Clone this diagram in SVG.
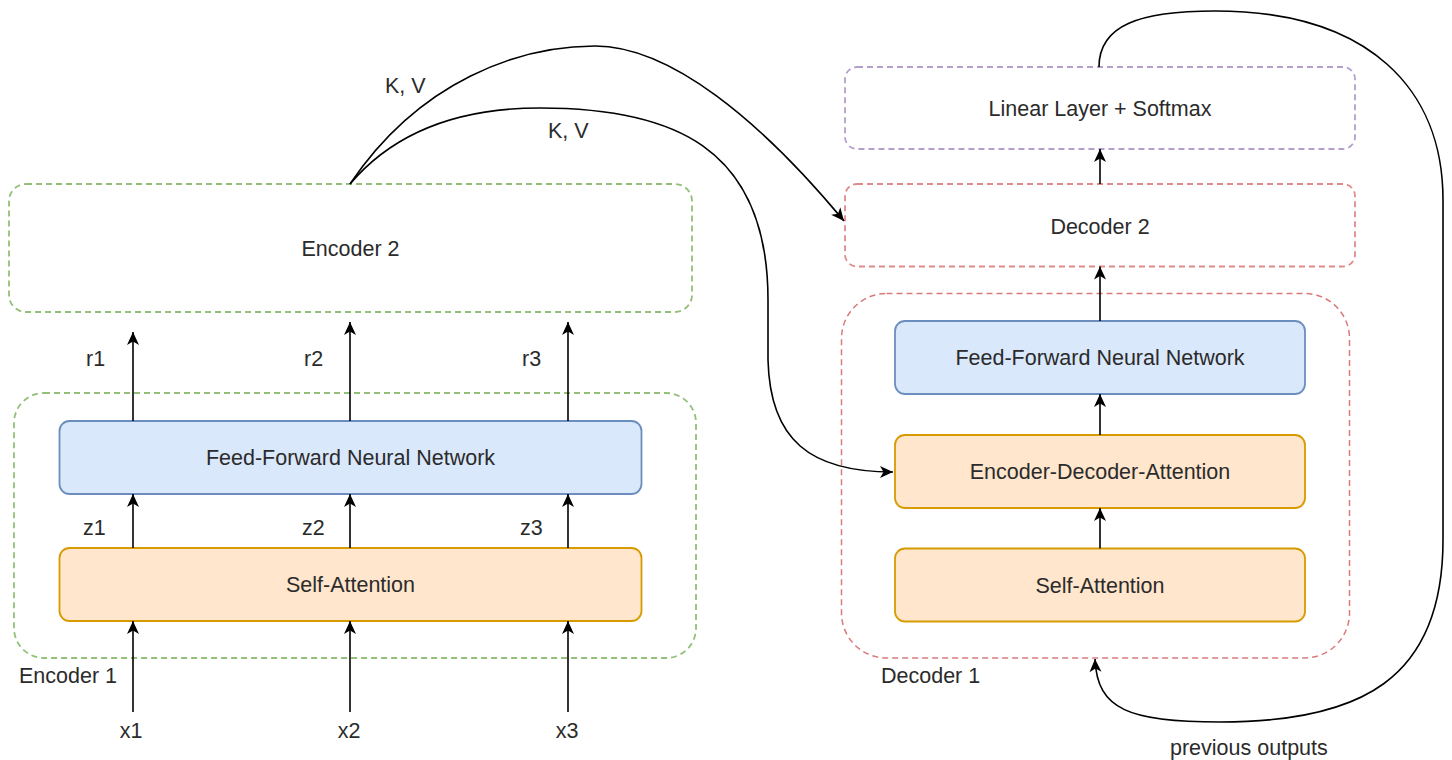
<svg xmlns="http://www.w3.org/2000/svg" width="1452" height="760" viewBox="0 0 1452 760">
  <style>
    text { font-family: "Liberation Sans", Arial, sans-serif; font-size: 21.5px; fill: #2b2b2b; }
    .c { text-anchor: middle; }
    .grp-green { fill: none; stroke: #93bf78; stroke-width: 1.8; stroke-dasharray: 6 4; }
    .grp-red { fill: none; stroke: #e08a8a; stroke-width: 1.8; stroke-dasharray: 6 4; }
    .grp-purple { fill: none; stroke: #b49fcb; stroke-width: 1.8; stroke-dasharray: 6 4; }
    .ffn { fill: #dae8fc; stroke: #6c8ebf; stroke-width: 1.8; }
    .att { fill: #ffe6cc; stroke: #d79b00; stroke-width: 1.8; }
    .edge { fill: none; stroke: #000; stroke-width: 1.6; marker-end: url(#arrow); }
  </style>
  <defs>
    <marker id="arrow" viewBox="-14 -7 15 14" refX="0" refY="0" markerWidth="15" markerHeight="14" markerUnits="userSpaceOnUse" orient="auto">
      <path d="M0,0 L-13,-6 L-9.5,0 L-13,6 Z" fill="#000"/>
    </marker>
  </defs>

  <rect x="0" y="0" width="1452" height="760" fill="#ffffff"/>

  <!-- Encoder side -->
  <g id="encoder2">
    <rect class="grp-green" x="9" y="184" width="683" height="128" rx="17"/>
    <text class="c" x="350.5" y="256">Encoder 2</text>
  </g>
  <g id="encoder1">
    <rect class="grp-green" x="14" y="393" width="682" height="265" rx="30"/>
    <text x="19" y="683">Encoder 1</text>
  </g>
  <g id="enc-ffn">
    <rect class="ffn" x="59.5" y="421" width="582" height="73" rx="10"/>
    <text class="c" x="350.5" y="465">Feed-Forward Neural Network</text>
  </g>
  <g id="enc-self-attention">
    <rect class="att" x="59.5" y="548" width="582" height="73" rx="10"/>
    <text class="c" x="350.5" y="592">Self-Attention</text>
  </g>

  <!-- Decoder side -->
  <g id="linear-softmax">
    <rect class="grp-purple" x="845" y="67" width="510" height="82" rx="12"/>
    <text class="c" x="1100" y="116">Linear Layer + Softmax</text>
  </g>
  <g id="decoder2">
    <rect class="grp-red" x="845" y="184" width="510" height="82.5" rx="12"/>
    <text class="c" x="1100" y="234">Decoder 2</text>
  </g>
  <g id="decoder1">
    <rect class="grp-red" x="841.5" y="293.5" width="508" height="364.5" rx="45" style="stroke:#d97a7c;stroke-width:1.5"/>
    <text x="881" y="683">Decoder 1</text>
  </g>
  <g id="dec-ffn">
    <rect class="ffn" x="895" y="321" width="410" height="73" rx="10"/>
    <text class="c" x="1100" y="365">Feed-Forward Neural Network</text>
  </g>
  <g id="dec-enc-dec-attention">
    <rect class="att" x="895" y="435" width="410" height="73" rx="10"/>
    <text class="c" x="1100" y="479">Encoder-Decoder-Attention</text>
  </g>
  <g id="dec-self-attention">
    <rect class="att" x="895" y="548.5" width="410" height="73" rx="10"/>
    <text class="c" x="1100" y="592.5">Self-Attention</text>
  </g>

  <!-- Connectors -->
  <g id="connectors">
    <!-- inputs into encoder self-attention -->
    <path class="edge" d="M133,712 L133,621"/>
    <path class="edge" d="M350,712 L350,621"/>
    <path class="edge" d="M568,712 L568,621"/>
    <!-- self-attention to feed-forward -->
    <path class="edge" d="M133,548 L133,494"/>
    <path class="edge" d="M350,548 L350,494"/>
    <path class="edge" d="M568,548 L568,494"/>
    <!-- feed-forward to encoder 2 -->
    <path class="edge" d="M133,421 L133,332"/>
    <path class="edge" d="M350,421 L350,322"/>
    <path class="edge" d="M568,421 L568,322"/>

    <!-- K, V from encoder stack to decoders -->
    <path class="edge" d="M350,184 C420,80 520,46 595,46 C670,46 760,120 844,221"/>
    <path class="edge" d="M350,184 C400,125 470,108 540,108 C670,108 768,145 768,300 L768,360 C770,440 810,472 893,472"/>

    <!-- decoder stack -->
    <path class="edge" d="M1100,548.5 L1100,508"/>
    <path class="edge" d="M1100,435 L1100,394"/>
    <path class="edge" d="M1100,321 L1100,266.5"/>
    <path class="edge" d="M1100,184 L1100,149"/>

    <!-- feedback loop of previous outputs -->
    <path class="edge" d="M1099,67 C1099,25 1140,11 1215,11 C1370,11 1443,90 1443,200 L1443,540 C1443,680 1360,722 1220,722 C1130,722 1097,710 1095,659"/>

    <!-- labels -->
    <text x="86" y="366">r1</text>
    <text x="304" y="366">r2</text>
    <text x="522" y="366">r3</text>
    <text x="83" y="535">z1</text>
    <text x="302" y="535">z2</text>
    <text x="520" y="535">z3</text>
    <text class="c" x="131" y="738">x1</text>
    <text class="c" x="349" y="738">x2</text>
    <text class="c" x="567" y="738">x3</text>
    <text x="385" y="93">K, V</text>
    <text x="548" y="138">K, V</text>
    <text x="1170" y="755">previous outputs</text>
  </g>
</svg>
